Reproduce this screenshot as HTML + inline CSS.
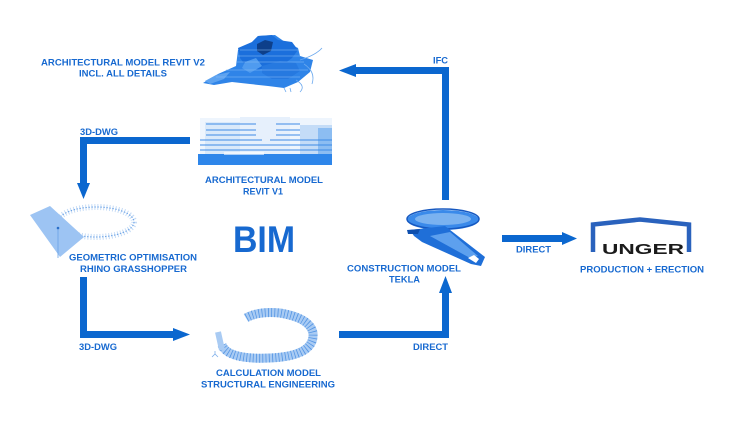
<!DOCTYPE html>
<html>
<head>
<meta charset="utf-8">
<style>
html,body{margin:0;padding:0;background:#fff;}
svg{display:block;}
text{font-family:"Liberation Sans",Arial,sans-serif;font-weight:bold;fill:#1769d0;}
</style>
</head>
<body>
<svg width="745" height="421" viewBox="0 0 745 421" xmlns="http://www.w3.org/2000/svg">
<rect width="745" height="421" fill="#fff"/>

<!-- ===== Arrows ===== -->
<g fill="#0b67cf">
  <polygon points="449,200 442,200 442,74 356,74 356,77 339,70.5 356,64 356,67 449,67"/>
  <polygon points="190,137 190,144 87,144 87,183 90,183 83.5,199 77,183 80,183 80,137"/>
  <polygon points="80,277 87,277 87,331 173,331 173,328 190,334.5 173,341 173,338 80,338"/>
  <polygon points="339,331 442,331 442,293 439,293 445.5,276 452,293 449,293 449,338 339,338"/>
  <polygon points="502,235 562,235 562,232 577,238.5 562,245 562,242 502,242"/>
</g>

<!-- ===== Revit V2 building ===== -->
<g>
  <polygon points="203,83 218,74 236,66 238,50 250,44 258,36 275,35 285,42 298,48 300,56 313,60 310,72 298,82 284,88 268,86 250,84 232,82 214,85" fill="#2f84e8"/>
  <polygon points="238,48 252,42 258,36 272,35 278,40 292,42 298,50 292,58 284,64 270,66 258,70 246,66 240,58" fill="#1b6fdc"/>
  <polygon points="257,44 265,40 273,42 271,51 263,55 257,51" fill="#0d3f8a"/>
  <polygon points="245,62 256,58 262,66 250,73 242,68" fill="#4f9bef"/>
  <polygon points="262,66 280,61 296,63 300,71 288,79 272,79 262,73" fill="#2679e0"/>
  <polygon points="205,81 216,75 230,72 224,79 210,84" fill="#5ea3f0"/>
  <g stroke="#8cc0f5" stroke-width="0.6">
    <line x1="240" y1="50" x2="298" y2="50"/>
    <line x1="238" y1="56" x2="300" y2="56"/>
    <line x1="236" y1="62" x2="304" y2="62"/>
    <line x1="226" y1="70" x2="308" y2="70"/>
    <line x1="216" y1="77" x2="300" y2="77"/>
  </g>
  <path d="M300,60 Q316,55 322,48 M304,64 Q316,72 312,84 M296,80 Q306,86 300,92 M284,88 l2,4 M290,88 l1,4" stroke="#6aa8ee" stroke-width="0.8" fill="none"/>
</g>

<!-- ===== Revit V1 section ===== -->
<g>
  <rect x="200" y="118" width="132" height="37" fill="#eef5fd"/>
  <rect x="205" y="122" width="50" height="33" fill="#d9e9fa"/>
  <rect x="240" y="117" width="50" height="38" fill="#e6f0fc"/>
  <rect x="300" y="125" width="32" height="30" fill="#c4dcf7"/>
  <rect x="318" y="128" width="14" height="27" fill="#8cbdf2"/>
  <g stroke="#3d8ae6" stroke-width="0.9">
    <line x1="206" y1="124" x2="256" y2="124"/>
    <line x1="206" y1="130" x2="256" y2="130"/>
    <line x1="206" y1="135" x2="256" y2="135"/>
    <line x1="200" y1="140" x2="262" y2="140"/>
    <line x1="200" y1="145" x2="332" y2="145"/>
    <line x1="200" y1="150" x2="332" y2="150"/>
    <line x1="276" y1="124" x2="300" y2="124"/>
    <line x1="276" y1="130" x2="300" y2="130"/>
    <line x1="276" y1="135" x2="300" y2="135"/>
    <line x1="270" y1="140" x2="332" y2="140"/>
  </g>
  <rect x="198" y="154" width="134" height="11" fill="#2e86ea"/>
  <rect x="224" y="152" width="40" height="3" fill="#fff" opacity="0.6"/>
</g>

<!-- ===== Rhino geometry ===== -->
<g>
  <ellipse cx="96" cy="222" rx="38" ry="15" fill="none" stroke="#c6dcf6" stroke-width="6" stroke-dasharray="1 2"/>
  <ellipse cx="96" cy="222" rx="38" ry="15" fill="none" stroke="#6aa2e6" stroke-width="1" stroke-dasharray="1.5 1.5"/>
  <polygon points="30,215 50,206 84,237 60,257" fill="#9dc4f3"/>
  <line x1="58" y1="228" x2="58" y2="258" stroke="#6aa2e6" stroke-width="0.8"/>
  <circle cx="58" cy="228" r="1.3" fill="#2a6fc9"/>
</g>

<!-- ===== Calculation ring ===== -->
<g>
  <path d="M222,345 Q228,360 270,358 Q315,356 313,333 Q310,318 280,313 Q258,311 246,318" fill="none" stroke="#a9cbf3" stroke-width="9"/>
  <path d="M222,345 Q228,360 270,358 Q315,356 313,333 Q310,318 280,313 Q258,311 246,318" fill="none" stroke="#4a8fe2" stroke-width="9" stroke-dasharray="0.8 2.4" opacity="0.9"/>
  <path d="M218,332 L222,350" stroke="#a9cbf3" stroke-width="6"/>
  <path d="M212,357 l3,-3 l3,3 M215,354 v-3" stroke="#7fb0ea" stroke-width="0.8" fill="none"/>
</g>

<!-- ===== Tekla model ===== -->
<g>
  <ellipse cx="443" cy="220" rx="36" ry="10" fill="#3a8aea"/>
  <ellipse cx="443" cy="219" rx="28" ry="6" fill="#7ab2f0"/>
  <ellipse cx="443" cy="219" rx="36" ry="10" fill="none" stroke="#1658c0" stroke-width="1.5"/>
  <polygon points="410,230 445,226 485,257 481,266 471,264 422,242 414,236" fill="#1f6fd8"/>
  <polygon points="430,236 450,232 478,256 470,258" fill="#5da0ee"/>
  <polygon points="407,230 420,229 418,234 408,234" fill="#0e4fae"/>
  <path d="M468,258 l6,-3 l5,4 l-3,4 z" fill="#fff"/>
</g>

<!-- ===== UNGER logo ===== -->
<g>
  <path d="M593,252 L593,224.5 L640,219.5 L689,224.5 L689,252" fill="none" stroke="#2a62bd" stroke-width="4.5" stroke-linejoin="miter"/>
  <text x="602" y="254" font-size="14.5" textLength="82" lengthAdjust="spacingAndGlyphs" style="fill:#1b1b1b;">UNGER</text>
</g>

<!-- ===== Labels ===== -->
<text x="41" y="65.5" font-size="9.3" textLength="164" lengthAdjust="spacingAndGlyphs">ARCHITECTURAL MODEL REVIT V2</text>
<text x="79" y="76.5" font-size="9.3" textLength="88" lengthAdjust="spacingAndGlyphs">INCL. ALL DETAILS</text>
<text x="433" y="63.5" font-size="9" textLength="15" lengthAdjust="spacingAndGlyphs">IFC</text>
<text x="80" y="135" font-size="9" textLength="38" lengthAdjust="spacingAndGlyphs">3D-DWG</text>
<text x="205" y="183" font-size="9.3" textLength="118" lengthAdjust="spacingAndGlyphs">ARCHITECTURAL MODEL</text>
<text x="243" y="194.3" font-size="9.3" textLength="40" lengthAdjust="spacingAndGlyphs">REVIT V1</text>
<text x="233" y="252" font-size="37" textLength="62" lengthAdjust="spacingAndGlyphs">BIM</text>
<text x="69" y="260.7" font-size="9.3" textLength="128" lengthAdjust="spacingAndGlyphs">GEOMETRIC OPTIMISATION</text>
<text x="80" y="272" font-size="9.3" textLength="107" lengthAdjust="spacingAndGlyphs">RHINO GRASSHOPPER</text>
<text x="79" y="350" font-size="9" textLength="38" lengthAdjust="spacingAndGlyphs">3D-DWG</text>
<text x="216" y="376" font-size="9.3" textLength="105" lengthAdjust="spacingAndGlyphs">CALCULATION MODEL</text>
<text x="201" y="387.3" font-size="9.3" textLength="134" lengthAdjust="spacingAndGlyphs">STRUCTURAL ENGINEERING</text>
<text x="347" y="271.3" font-size="9.3" textLength="114" lengthAdjust="spacingAndGlyphs">CONSTRUCTION MODEL</text>
<text x="389" y="282.7" font-size="9.3" textLength="31" lengthAdjust="spacingAndGlyphs">TEKLA</text>
<text x="413" y="350" font-size="9" textLength="35" lengthAdjust="spacingAndGlyphs">DIRECT</text>
<text x="516" y="252.7" font-size="9" textLength="35" lengthAdjust="spacingAndGlyphs">DIRECT</text>
<text x="580" y="272.7" font-size="9.3" textLength="124" lengthAdjust="spacingAndGlyphs">PRODUCTION + ERECTION</text>
</svg>
</body>
</html>
